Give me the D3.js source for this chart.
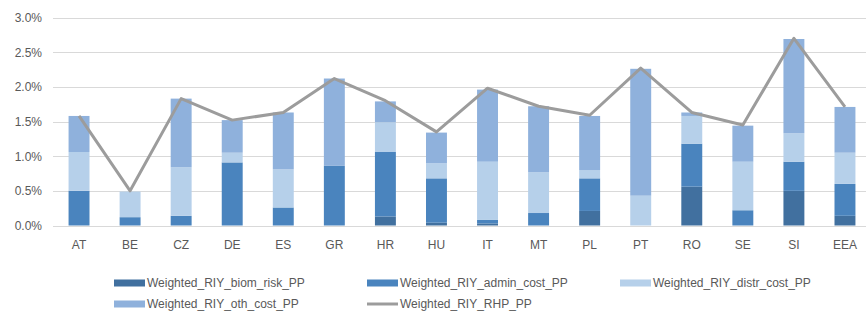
<!DOCTYPE html>
<html><head><meta charset="utf-8">
<script src="https://cdn.jsdelivr.net/npm/d3@7"></script>
<style>body{margin:0;background:#fff}svg{display:block}text{font-family:"Liberation Sans",Arial,sans-serif}</style>
</head><body><svg id="c" width="866" height="320"></svg>
<script>
const categories = ["AT","BE","CZ","DE","ES","GR","HR","HU","IT","MT","PL","PT","RO","SE","SI","EEA"];
const biomRisk  = [0,0,0,0,0,0,0.13,0.04,0.03,0,0.21,0,0.56,0,0.50,0.14];
const adminCost = [0.50,0.12,0.14,0.91,0.26,0.86,0.93,0.64,0.05,0.18,0.47,0,0.62,0.22,0.42,0.46];
const distrCost = [0.56,0.37,0.70,0.14,0.55,0,0.43,0.22,0.84,0.59,0.12,0.43,0.40,0.70,0.41,0.45];
const othCost   = [0.52,0,0.99,0.47,0.82,1.26,0.30,0.44,1.04,0.95,0.78,1.83,0.05,0.52,1.36,0.66];
const rhp       = [1.58,0.50,1.83,1.52,1.63,2.12,1.80,1.35,1.98,1.72,1.59,2.27,1.63,1.45,2.70,1.71];
const yTicks = [0,0.5,1,1.5,2,2.5,3];
const seriesNames = ["Weighted_RIY_biom_risk_PP","Weighted_RIY_admin_cost_PP","Weighted_RIY_distr_cost_PP","Weighted_RIY_oth_cost_PP"];
const lineName = "Weighted_RIY_RHP_PP";
const colors = ["#41709f","#4a84be","#b6d0ea","#8fb1dc"];
const lineColor = "#9c9c9c";

const svg = d3.select("#c");
const x = d3.scaleBand().domain(categories).range([53.5, 870.5]).paddingInner(0.59).paddingOuter(0.295);
const y = d3.scaleLinear().domain([0,3]).range([225.5, 17.5]);

// gridlines
svg.append("g").selectAll("line").data(yTicks).join("line")
  .attr("x1",53).attr("x2",866).attr("y1",d=>Math.round(y(d))+0.5).attr("y2",d=>Math.round(y(d))+0.5)
  .attr("stroke","#d9d9d9").attr("stroke-width",1.2);

// y axis labels
const yAxis = d3.axisLeft(y).tickValues(yTicks).tickFormat(d=>d3.format(".1f")(d)+"%").tickSize(0).tickPadding(0);
const ya = svg.append("g").attr("transform","translate(42,0)").call(yAxis);
ya.select(".domain").remove();
ya.selectAll("text").attr("fill","#595959").style("font-size","12px");

// stacked bars
const rows = categories.map((c,i)=>({cat:c, s0:biomRisk[i], s1:adminCost[i], s2:distrCost[i], s3:othCost[i]}));
const stack = d3.stack().keys(["s0","s1","s2","s3"])(rows);
svg.append("g").selectAll("g").data(stack).join("g").attr("fill",(d,i)=>colors[i])
  .selectAll("rect").data(d=>d).join("rect")
  .attr("x",d=>x(d.data.cat)).attr("width",x.bandwidth())
  .attr("y",d=>y(d[1])).attr("height",d=>Math.max(0,y(d[0])-y(d[1])));

// line
const line = d3.line().x((d,i)=>x(categories[i])+x.bandwidth()/2).y(d=>y(d));
svg.append("path").datum(rhp).attr("d",line).attr("fill","none")
  .attr("stroke",lineColor).attr("stroke-width",3).attr("stroke-linejoin","round");

// x axis labels
const xAxis = d3.axisBottom(x).tickSize(0).tickPadding(0);
const xa = svg.append("g").attr("transform","translate(0,240)").call(xAxis);
xa.select(".domain").remove();
xa.selectAll("text").attr("fill","#595959").style("font-size","12px").attr("dy","0.35em").attr("y",5);

// legend
const legendItems = [
  {name:seriesNames[0], type:"rect", color:colors[0], x:114, y:283},
  {name:seriesNames[1], type:"rect", color:colors[1], x:367, y:283},
  {name:seriesNames[2], type:"rect", color:colors[2], x:620, y:283},
  {name:seriesNames[3], type:"rect", color:colors[3], x:114, y:304},
  {name:lineName, type:"line", color:lineColor, x:367, y:304}
];
const lg = svg.append("g").selectAll("g").data(legendItems).join("g")
  .attr("transform",d=>`translate(${d.x},${d.y})`);
lg.filter(d=>d.type==="rect").append("rect").attr("x",0).attr("y",-3.5).attr("width",31).attr("height",7).attr("fill",d=>d.color);
lg.filter(d=>d.type==="line").append("line").attr("x1",0).attr("x2",31).attr("y1",0).attr("y2",0).attr("stroke",d=>d.color).attr("stroke-width",3);
lg.append("text").attr("x",33).attr("y",0).attr("dy","0.35em").attr("fill","#595959").style("font-size","12px").text(d=>d.name);
</script></body></html>
